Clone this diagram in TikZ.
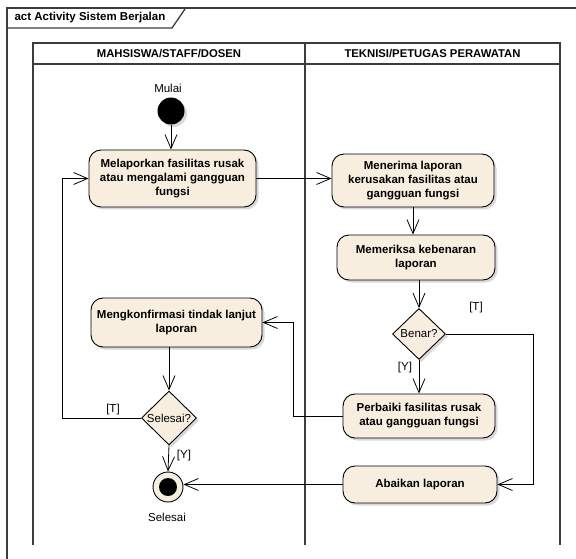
\documentclass[tikz,border=0pt]{standalone}
\usepackage{fontspec}
\setmainfont{Liberation Sans}
\usetikzlibrary{arrows.meta,shapes.geometric,shadows}
\definecolor{krem}{RGB}{248,238,224}
\definecolor{garis}{RGB}{60,60,60}

\begin{document}
\begin{tikzpicture}[x=1pt,y=-1pt,
    font=\fontsize{11.5}{14}\selectfont,
    bayang/.style={drop shadow={shadow xshift=2.5pt,shadow yshift=-2.5pt,opacity=0.3}},
    aktivitas/.style={draw, fill=krem, rounded corners=12pt, line width=0.9pt, align=center,
      inner sep=2pt, font=\fontsize{11.5}{14}\selectfont\bfseries, bayang},
    keputusan/.style={draw, fill=krem, diamond, shape aspect=1, inner sep=0pt, line width=0.9pt, bayang},
    alur/.style={-{Straight Barb[length=14pt,width=12pt]}, line width=0.8pt},
    jalur/.style={draw=garis, line width=1.3pt}]
  \useasboundingbox (0,0) rectangle (576,559);
  % bingkai diagram
  \draw[jalur] (7,559) -- (7,8) -- (576,8);
  \draw[jalur] (7,28) -- (172,28) -- (185,9);
  \node[anchor=west, font=\fontsize{11.5}{14}\selectfont\bfseries] (judul) at (11,18) {act Activity Sistem Berjalan};
  % swimlane
  \draw[jalur] (33,545) -- (33,43) -- (560,43) -- (560,545);
  \draw[jalur] (33,64) -- (560,64);
  \draw[jalur] (305,43) -- (305,545);
  \node[font=\fontsize{11.3}{14}\selectfont\bfseries] (lajur1) at (169,53.5) {MAHSISWA/STAFF/DOSEN};
  \node[font=\fontsize{11.3}{14}\selectfont\bfseries] (lajur2) at (432.5,53.5) {TEKNISI/PETUGAS PERAWATAN};

  % simpul
  \node (teksmulai) at (168,88) {Mulai};
  \node[circle, fill=black, minimum size=27pt, inner sep=0pt, bayang] (mulai) at (171,111) {};
  \node[aktivitas, minimum width=167pt, minimum height=57pt] (lapor) at (172.5,178.5)
    {Melaporkan fasilitas rusak\\atau mengalami gangguan\\fungsi};
  \node[aktivitas, minimum width=162pt, minimum height=53pt] (terima) at (413,180.5)
    {Menerima laporan\\kerusakan fasilitas atau\\gangguan fungsi};
  \node[aktivitas, minimum width=158pt, minimum height=45pt] (periksa) at (416,257.5)
    {Memeriksa kebenaran\\laporan};
  \node[keputusan, minimum width=53pt, minimum height=51pt] (benar) at (419,334) {Benar?};
  \node[aktivitas, minimum width=152pt, minimum height=44pt] (perbaiki) at (419,416)
    {Perbaiki fasilitas rusak\\atau gangguan fungsi};
  \node[aktivitas, minimum width=154pt, minimum height=37pt] (abaikan) at (420,484.5)
    {Abaikan laporan};
  \node[aktivitas, minimum width=171pt, minimum height=49pt] (konfirmasi) at (176.5,322.5)
    {Mengkonfirmasi tindak lanjut\\laporan};
  \node[keputusan, minimum width=55pt, minimum height=54pt] (selesaitanya) at (169,418) {Selesai?};
  \node[circle, draw, fill=krem, minimum size=30pt, inner sep=0pt, line width=0.9pt] (akhir) at (168,487) {};
  \node[circle, fill=black, minimum size=18pt, inner sep=0pt] (akhirdalam) at (akhir) {};
  \node (teksselesai) at (167,517) {Selesai};

  % titik belok
  \coordinate (kanan) at (533,334);
  \coordinate (kiri) at (293,416);
  \coordinate (balik) at (62,418);

  % alur
  \draw[alur] (mulai.south) -- (mulai.south |- lapor.north);
  \draw[alur] (lapor.east) -- (lapor.east -| terima.west);
  \draw[alur] (terima.south) -- (terima.south |- periksa.north);
  \draw[alur] (periksa.south -| benar.north) -- (benar.north);
  \draw[alur] (benar.south) -- (perbaiki.north);
  \draw[alur] (benar.east) -- (kanan) |- (abaikan.east);
  \draw[alur] (perbaiki.west) -- (kiri) |- (konfirmasi.east);
  \draw[alur] (konfirmasi.south -| selesaitanya.north) -- (selesaitanya.north);
  \draw[alur] (selesaitanya.west) -- (balik) |- (lapor.west);
  \draw[alur] (selesaitanya.south) -- (akhir.north);
  \draw[alur] (abaikan.west) -- (abaikan.west -| akhir.east);
  \node (labelT1) at (476,308) {[T]};
  \node (labelY1) at (405,368) {[Y]};
  \node (labelT2) at (113,410) {[T]};
  \node (labelY2) at (184,456) {[Y]};
\end{tikzpicture}
\end{document}
